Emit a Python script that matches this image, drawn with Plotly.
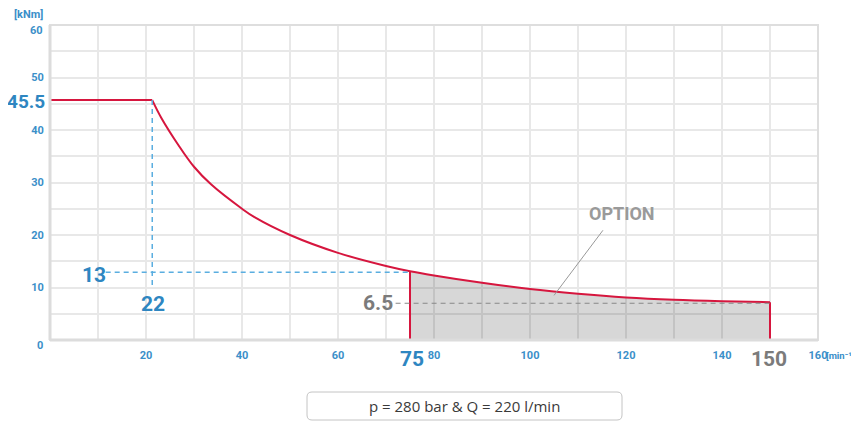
import plotly.graph_objects as go

# ---- data ----
speed = [0, 21.3, 23.2, 26.7, 30, 33.6, 40, 42.6, 50, 60, 70, 75, 80, 90, 100, 110, 120, 130, 140, 150]
torque = [45.7, 45.7, 42.3, 37.2, 33.0, 29.6, 25.0, 23.4, 20.0, 16.6, 14.1, 13.1, 12.3, 10.9, 9.7, 8.8, 8.1, 7.65, 7.38, 7.2]
option_start = 75
option_end = 150
corner_speed = 21.3
max_torque_label = "45.5"
corner_label = "22"
torque75_label = "13"
torque75_value = 12.9
torque150_label = "6.5"
torque150_value = 7.0
speed75_label = "75"
speed150_label = "150"
x_ticks = [20, 40, 60, 80, 100, 120, 140, 160]
y_ticks = [0, 10, 20, 30, 40, 50, 60]
condition_text = "p = 280 bar & Q = 220 l/min"

RED = "#d6163e"
BLUE = "#3b8fc9"
BIGBLUE = "#2e86c1"
GRAY = "#7b7b7b"
NARROW = "Roboto, Liberation Sans, sans-serif"

# page offset (browser body margin) and plot area in page pixels
OFF = 8
L, R, T, B = 50, 818, 25, 340
W, H = 859 - OFF, 421 - OFF


def xp(px):
    return (px - L) / (R - L)


def yp(py):
    return (B - py) / (B - T)


fig = go.Figure()

# option shaded area
i0 = speed.index(option_start)
i1 = speed.index(option_end)
fig.add_trace(go.Scatter(
    x=speed[i0:i1 + 1], y=torque[i0:i1 + 1], mode="lines",
    line=dict(width=0, shape="spline", smoothing=1.0), fill="tozeroy",
    fillcolor="rgba(0,0,0,0.155)", hoverinfo="skip", showlegend=False))

# flat part
ic = speed.index(corner_speed)
fig.add_trace(go.Scatter(x=speed[:ic + 1], y=torque[:ic + 1], mode="lines",
                         line=dict(color=RED, width=2), showlegend=False))
# hyperbolic part
fig.add_trace(go.Scatter(x=speed[ic:], y=torque[ic:], mode="lines",
                         line=dict(color=RED, width=2, shape="spline", smoothing=1.0),
                         showlegend=False))
# red verticals
for i in (i0, i1):
    fig.add_trace(go.Scatter(x=[speed[i], speed[i]], y=[0, torque[i]], mode="lines",
                             line=dict(color=RED, width=2), showlegend=False))

# blue dashed guides
fig.add_trace(go.Scatter(x=[corner_speed, corner_speed], y=[torque[ic], 9.9], mode="lines",
                         line=dict(color="#5aaee0", width=1.5, dash="5px,4px"), showlegend=False))
fig.add_trace(go.Scatter(x=[11.6, option_start], y=[torque75_value, torque75_value], mode="lines",
                         line=dict(color="#5aaee0", width=1.5, dash="5px,4px"), showlegend=False))
# gray dashed guide
fig.add_trace(go.Scatter(x=[72, option_end], y=[torque150_value, torque150_value], mode="lines",
                         line=dict(color="#888888", width=1.2, dash="5px,4px"), showlegend=False))
# option pointer
fig.add_trace(go.Scatter(x=[115.2, 105.0], y=[20.9, 8.5], mode="lines",
                         line=dict(color="#999999", width=1), showlegend=False))


def label(text, cx, cy, size, color, family=NARROW, weight="bold", anchor="center"):
    fig.add_annotation(text=text, x=xp(cx), y=yp(cy), xref="paper", yref="paper",
                       showarrow=False, xanchor=anchor, yanchor="middle",
                       font=dict(family=family, size=size, color=color, weight=weight))


label(max_torque_label, 47, 101, 19, BIGBLUE, anchor="right")
label(torque75_label, 93.5, 275, 21, BIGBLUE)
label(corner_label, 152.5, 304, 21, BIGBLUE)
label(speed75_label, 412, 359, 21, BIGBLUE)
label(torque150_label, 378, 302.5, 21, GRAY)
label(speed150_label, 769, 359, 21, GRAY)
label("OPTION", 621.5, 213, 18, "#9a9a9a")
label("[kNm]", 28, 15, 11, BLUE)
label("[min\u207b\u00b9]", 857, 355, 9.5, BLUE, anchor="right")
# end y tick labels sit slightly inside, as in the reference
label(str(y_ticks[0]), 45, 345, 11, BLUE, anchor="right")
label(str(y_ticks[-1]), 45, 30, 11, BLUE, anchor="right")
label(condition_text, 464.5, 406, 15, "#3a3a3a", family="Open Sans, Lato, sans-serif", weight="normal")

# rounded box around condition text
x0, x1, y0, y1, r = xp(307), xp(622), yp(392), yp(420), 5
rx = r / (R - L)
ry = r / (B - T)
path = (f"M {x0+rx},{y0} L {x1-rx},{y0} Q {x1},{y0} {x1},{y0-ry} "
        f"L {x1},{y1+ry} Q {x1},{y1} {x1-rx},{y1} L {x0+rx},{y1} "
        f"Q {x0},{y1} {x0},{y1+ry} L {x0},{y0-ry} Q {x0},{y0} {x0+rx},{y0} Z")
fig.add_shape(type="path", path=path, xref="paper", yref="paper",
              line=dict(color="#c4c4c4", width=1))

# frame
fig.add_shape(type="rect", x0=0, x1=1, y0=0, y1=1, xref="paper", yref="paper",
              line=dict(color="#dedede", width=2), layer="above")
fig.add_shape(type="line", x0=0, x1=0, y0=0, y1=1, xref="paper", yref="paper",
              line=dict(color="#dcdcdc", width=3), layer="above")
fig.add_shape(type="line", x0=0, x1=1, y0=0, y1=0, xref="paper", yref="paper",
              line=dict(color="#dcdcdc", width=3), layer="above")

tickfont = dict(family=NARROW, size=11, color=BLUE, weight="bold")
fig.update_layout(
    width=W, height=H,
    margin=dict(l=L - OFF, r=859 - R, t=T - OFF, b=421 - B),
    plot_bgcolor="white", paper_bgcolor="white",
    xaxis=dict(range=[0, 160], tickvals=x_ticks, ticktext=[str(v) for v in x_ticks],
               showgrid=True, gridcolor="#e8e8e8", gridwidth=1.5,
               minor=dict(dtick=10, tick0=0, showgrid=True, gridcolor="#e8e8e8", gridwidth=1.5),
               zeroline=False, showline=False, ticks="outside", ticklen=5,
               tickcolor="rgba(0,0,0,0)", tickfont=tickfont, fixedrange=True),
    yaxis=dict(range=[0, 60], tickvals=y_ticks,
               ticktext=[""] + [str(v) for v in y_ticks[1:-1]] + [""],
               showgrid=True, gridcolor="#e8e8e8", gridwidth=1.5,
               minor=dict(dtick=5, tick0=0, showgrid=True, gridcolor="#e8e8e8", gridwidth=1.5),
               zeroline=False, showline=False, ticks="outside", ticklen=3,
               tickcolor="rgba(0,0,0,0)", tickfont=tickfont, fixedrange=True),
    showlegend=False,
)

fig.write_html("out.html")
